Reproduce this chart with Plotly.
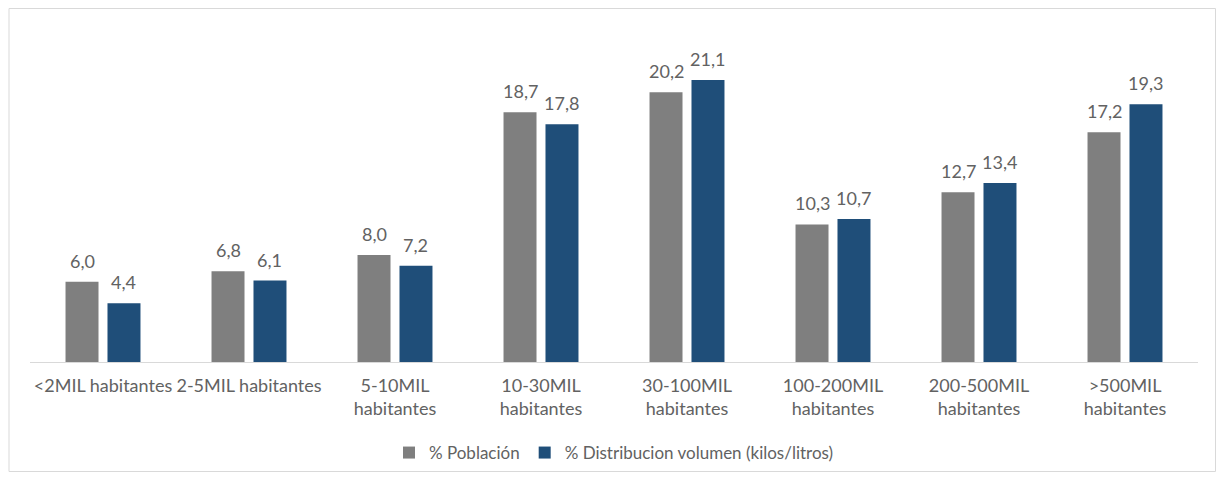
import plotly.graph_objects as go

categories = ["&lt;2MIL habitantes", "2-5MIL habitantes", "5-10MIL<br>habitantes",
              "10-30MIL<br>habitantes", "30-100MIL<br>habitantes", "100-200MIL<br>habitantes",
              "200-500MIL<br>habitantes", "&gt;500MIL<br>habitantes"]
poblacion = [6.0, 6.8, 8.0, 18.7, 20.2, 10.3, 12.7, 17.2]
distribucion = [4.4, 6.1, 7.2, 17.8, 21.1, 10.7, 13.4, 19.3]
series_names = ["% Población", "% Distribucion volumen (kilos/litros)"]

def fmt(v):
    return f"{v:.1f}".replace(".", ",")

TXT = "#626262"
# page body has an 8px margin; work in figure coordinates
OFF = 8
W, H = 1225 - 2 * OFF, 481 - 2 * OFF
ml = 29.5 - OFF
plot_right = 1198 - OFF
mr = W - plot_right
mt = 28 - OFF
base = 362 - OFF
mb = H - base
pw, ph = W - ml - mr, H - mt - mb
cat_w = pw / len(categories)

fig = go.Figure()
series = [(series_names[0], poblacion, "#7f7f7f"),
          (series_names[1], distribucion, "#1f4e79")]
for name, vals, col in series:
    fig.add_trace(go.Bar(
        x=categories, y=vals, name=name, marker_color=col,
        marker_line_width=0, hoverinfo="x+y+name",
    ))

bargap, bargroupgap = 0.425, 0.214
slot = cat_w * (1 - bargap) / 2
for k, (name, vals, col) in enumerate(series):
    shift = (k - 0.5) * slot
    for c, v in zip(categories, vals):
        fig.add_annotation(x=c, y=v, text=fmt(v), showarrow=False,
                           xshift=shift, yshift=8, yanchor="bottom",
                           font=dict(size=18, color=TXT, family="Lato"))

def px_x(p):
    return (p - OFF - ml) / pw

def px_y(p):
    return (base - (p - OFF)) / ph

fig.add_shape(type="rect", xref="paper", yref="paper",
              x0=px_x(8.5), x1=px_x(1215.5), y0=px_y(471.5), y1=px_y(8.5),
              line=dict(color="#d9d9d9", width=1), fillcolor="rgba(0,0,0,0)")

fig.update_layout(
    width=W, height=H,
    margin=dict(l=ml, r=mr, t=mt, b=mb, autoexpand=False),
    paper_bgcolor="white", plot_bgcolor="white",
    barmode="group", bargap=bargap, bargroupgap=bargroupgap,
    font=dict(family="Lato", color=TXT, size=18),
    showlegend=True,
    legend=dict(orientation="h", x=0.5, xanchor="center", y=px_y(453), yanchor="middle",
                font=dict(size=17, color=TXT), itemwidth=30, traceorder="normal"),
    xaxis=dict(showline=True, linecolor="#d9d9d9", linewidth=1, ticks="",
               tickfont=dict(size=18, color=TXT), showgrid=False, fixedrange=True,
               ticklabelstandoff=7),
    yaxis=dict(range=[0, 25], visible=False, showgrid=False, fixedrange=True),
)

fig.write_html("out.html")
